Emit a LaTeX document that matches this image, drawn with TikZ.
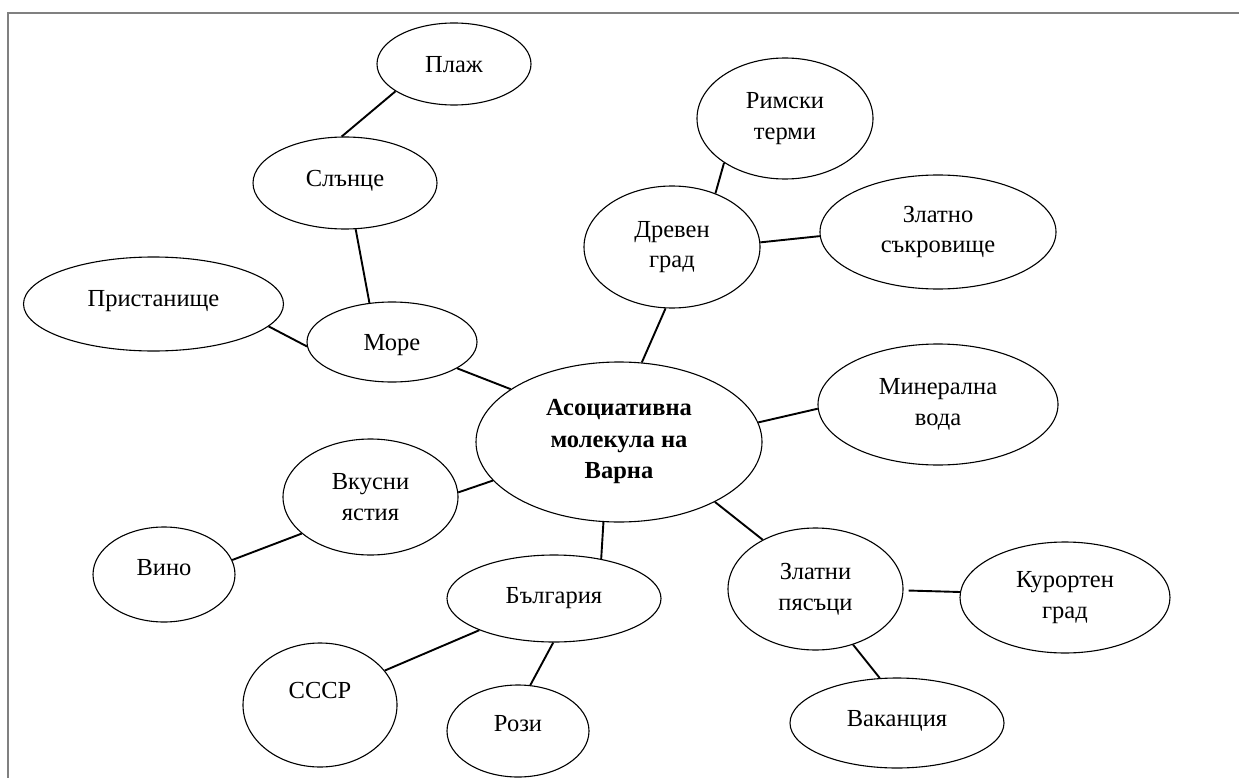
\documentclass[tikz,border=0pt]{standalone}
\usepackage{fontspec}
\setmainfont{Liberation Serif}
\usetikzlibrary{shapes.geometric}
\begin{document}
\begin{tikzpicture}[x=1pt,y=-1pt,
  every node/.style={font=\fontsize{24.5}{30.5}\selectfont},
  bub/.style 2 args={draw, ellipse, line width=1.1pt, inner sep=0pt,
    minimum width=#1pt, minimum height=#2pt},
  sline/.style={text height=16.5pt, text depth=#1},
  sline/.default=0pt,
  mline/.style={align=center},
  link/.style={draw, line width=1.9pt},
  frame/.style={draw=gray, line width=2pt}]
\useasboundingbox (0,0) rectangle (1239,778);
\draw[frame] (8,778) -- (8,13) -- (1239,13);

\node[bub={154}{82}, sline] (plaj) at (454,64) {Плаж};
\node[bub={184}{92}, sline=10pt] (slance) at (345,183) {Слънце};
\node[bub={176}{121}, mline] (rimski) at (785,118.5) {Римски\\терми};
\node[bub={176}{122}, mline] (drevni) at (672,247) {Древен\\град};
\node[bub={236}{114}, mline] (zlatno) at (938,232) {Златно\\съкровище};
\node[bub={260}{94}, sline=12pt] (pristan) at (153.5,304) {Пристанище};
\node[bub={170}{80}, sline] (more) at (392,342) {Море};
\node[bub={286}{160}, mline, font=\fontsize{24.5}{31.5}\selectfont\bfseries] (center) at (619,442) {Асоциативна\\молекула на\\Варна};
\node[bub={240}{121}, mline] (mineral) at (938,404.5) {Минерална\\вода};
\node[bub={175}{116}, mline] (vkusni) at (370.5,497) {Вкусни\\ястия};
\node[bub={142}{95}, sline=14pt] (vino) at (164,574.5) {Вино};
\node[bub={214}{87}, sline=6pt] (bulg) at (554,598.5) {България};
\node[bub={154}{124}, sline=30pt] (sssr) at (320,705) {СССР};
\node[bub={142}{92}, sline=16pt] (rozi) at (518,731) {Рози};
\node[bub={175}{122}, mline] (zlatni) at (815.5,589) {Златни\\пясъци};
\node[bub={210}{111}, mline] (kurort) at (1065,597.5) {Курортен\\град};
\node[bub={214}{90}, sline=10pt] (vakanc) at (897,723) {Ваканция};

\draw[link] (plaj.205) -- (slance.94);
\draw[link] (slance.283) -- (more.120);
\draw[link] (pristan.349) -- (more.183);
\draw[link] (more.338) -- (center.154);
\draw[link] (drevni.264) -- (center.74);
\draw[link] (rimski.216) -- (drevni.51);
\draw[link] (drevni.3) -- (zlatno.182);
\draw[link] (center.8) -- (mineral.182);
\draw[link] (center.197) -- (vkusni.3);
\draw[link] (vkusni.208) -- (vino.12);
\draw[link] (center.259) -- (bulg.40);
\draw[link] (bulg.203) -- (sssr.28);
\draw[link] (bulg.269) -- (rozi.75);
\draw[link] (center.328) -- (zlatni.137);
\draw[link] ([xshift=5pt]zlatni.359) -- (kurort.177);
\draw[link] (zlatni.304) -- (vakanc.111);
\end{tikzpicture}
\end{document}
